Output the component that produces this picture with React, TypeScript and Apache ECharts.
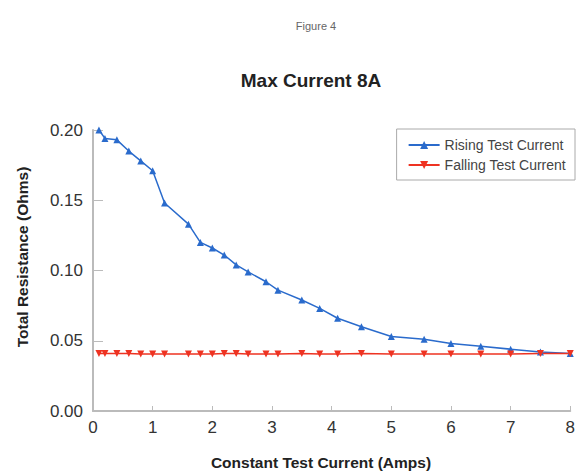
import React, { useEffect, useRef } from "react";
import * as echarts from "echarts";

const currents = [0.1, 0.2, 0.4, 0.6, 0.8, 1.0, 1.2, 1.6, 1.8, 2.0, 2.2, 2.4, 2.6, 2.9, 3.1, 3.5, 3.8, 4.1, 4.5, 5.0, 5.55, 6.0, 6.5, 7.0, 7.5, 8.0];
const rising = [0.2, 0.194, 0.193, 0.185, 0.178, 0.171, 0.148, 0.133, 0.12, 0.116, 0.111, 0.104, 0.099, 0.092, 0.086, 0.079, 0.073, 0.066, 0.06, 0.053, 0.051, 0.048, 0.046, 0.044, 0.042, 0.041];
const falling = [0.041, 0.041, 0.041, 0.041, 0.0405, 0.0405, 0.0405, 0.0405, 0.0405, 0.0405, 0.041, 0.041, 0.0405, 0.0405, 0.0405, 0.041, 0.0405, 0.0405, 0.041, 0.0405, 0.0405, 0.0405, 0.0405, 0.0405, 0.041, 0.041];
const seriesNames = ["Rising Test Current", "Falling Test Current"];
const xAxisTitle = "Constant Test Current (Amps)";
const yAxisTitle = "Total Resistance (Ohms)";

export default function App() {
  const ref = useRef<HTMLDivElement>(null);
  useEffect(() => {
    if (!ref.current) return;
    const chart = echarts.init(ref.current, null, { renderer: "svg" });
    const font = "Liberation Sans, Arial, sans-serif";
    chart.setOption({
      animation: false,
      backgroundColor: "#fff",
      textStyle: { fontFamily: font },
      title: [
        {
          text: "Figure 4",
          left: 311,
          top: 15,
          textAlign: "center",
          textStyle: { fontSize: 11, fontWeight: "normal", color: "#666", fontFamily: font },
        },
        {
          text: "Max Current 8A",
          left: 306,
          top: 66,
          textAlign: "center",
          textStyle: { fontSize: 19, fontWeight: "bold", color: "#222", fontFamily: font },
        },
      ],
      graphic: [
        {
          type: "text",
          x: 321,
          y: 462,
          style: {
            text: xAxisTitle,
            fontSize: 15.5,
            fontWeight: "bold",
            fill: "#222",
            fontFamily: font,
            align: "center",
            verticalAlign: "middle",
          },
        },
        {
          type: "text",
          x: 22,
          y: 257,
          rotation: Math.PI / 2,
          style: {
            text: yAxisTitle,
            fontSize: 15.5,
            fontWeight: "bold",
            fill: "#222",
            fontFamily: font,
            align: "center",
            verticalAlign: "middle",
          },
        },
      ],
      legend: {
        data: seriesNames,
        orient: "vertical",
        right: 3,
        top: 129,
        borderColor: "#aaa",
        borderWidth: 1,
        padding: [9, 9, 8, 11],
        itemGap: 6,
        itemWidth: 31,
        itemHeight: 10,
        textStyle: { fontSize: 14, lineHeight: 14, color: "#444", fontFamily: font },
      },
      grid: { left: 93, right: 6, top: 130, bottom: 61 },
      xAxis: {
        type: "value",
        min: 0,
        max: 8,
        interval: 1,
        axisLine: { lineStyle: { color: "#bbb", width: 2 } },
        axisTick: { inside: true, length: 5, lineStyle: { color: "#bbb" } },
        axisLabel: { fontSize: 17, color: "#333", margin: 8, fontFamily: font },
        splitLine: { show: false },
      },
      yAxis: {
        type: "value",
        min: 0,
        max: 0.2,
        interval: 0.05,
        axisLine: { show: true, lineStyle: { color: "#bbb", width: 2 } },
        axisTick: { show: true, inside: true, length: 10, lineStyle: { color: "#bbb" } },
        axisLabel: { fontSize: 17, color: "#333", margin: 10, formatter: (v: number) => v.toFixed(2), fontFamily: font },
        splitLine: { show: false },
      },
      series: [
        {
          name: seriesNames[0],
          type: "line",
          data: currents.map((x, i) => [x, rising[i]]),
          symbol: "triangle",
          symbolSize: 7,
          color: "#2a6bcc",
          lineStyle: { width: 1.5 },
        },
        {
          name: seriesNames[1],
          type: "line",
          data: currents.map((x, i) => [x, falling[i]]),
          symbol: "triangle",
          symbolRotate: 180,
          symbolSize: 7,
          color: "#ee3322",
          lineStyle: { width: 1.5 },
        },
      ],
    });
    return () => chart.dispose();
  }, []);
  return <div ref={ref} style={{ width: 578, height: 472, position: "absolute", left: 0, top: 0 }} />;
}
